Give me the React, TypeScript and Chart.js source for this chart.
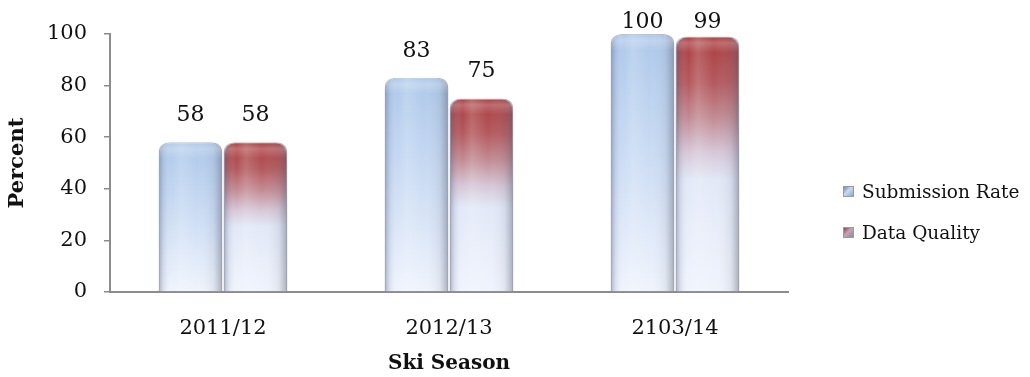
import React, { useEffect, useRef } from "react";
import { Chart, registerables } from "chart.js";

Chart.register(...registerables);

// Season categories and the two percentage series
const seasons = ["2011/12", "2012/13", "2103/14"];
const submissionRate = [58, 83, 100];
const dataQuality = [58, 75, 99];
const seriesNames = ["Submission Rate", "Data Quality"];
const yTicks = [0, 20, 40, 60, 80, 100];

const FONT = "'DejaVu Serif', 'Liberation Serif', serif";

type Stop = [number, string];
const blueStops: Stop[] = [
  [0, "#adc8ea"],
  [0.45, "#c9dbf3"],
  [1, "#f0f4fd"],
];
const redStops: Stop[] = [
  [0, "#a93b3d"],
  [0.18, "#b4595d"],
  [0.32, "#c28c94"],
  [0.45, "#d6c6d6"],
  [0.56, "#e2e8f7"],
  [1, "#f0f4fd"],
];

function barFill(stops: Stop[], fallback: string) {
  return (ctx: any) => {
    const chart = ctx.chart;
    if (!chart.chartArea || ctx.raw == null) return fallback;
    const y = chart.scales.y;
    const top = y.getPixelForValue(ctx.raw);
    const bottom = y.getPixelForValue(0);
    const g = chart.ctx.createLinearGradient(0, top, 0, bottom);
    stops.forEach(([o, c]) => g.addColorStop(o, c));
    return g;
  };
}

// Adds the rounded-cylinder shading across each bar
const cylinderShade = {
  id: "cylinderShade",
  afterDatasetsDraw(chart: any) {
    const c = chart.ctx;
    chart.data.datasets.forEach((_: any, di: number) => {
      const meta = chart.getDatasetMeta(di);
      meta.data.forEach((bar: any) => {
        const { x, y, base, width } = bar.getProps(["x", "y", "base", "width"], true);
        const left = x - width / 2;
        const h = base - y;
        const r = Math.min(11, width / 2, h);
        c.save();
        c.beginPath();
        c.moveTo(left, base);
        c.lineTo(left, y + r);
        c.quadraticCurveTo(left, y, left + r, y);
        c.lineTo(left + width - r, y);
        c.quadraticCurveTo(left + width, y, left + width, y + r);
        c.lineTo(left + width, base);
        c.closePath();
        c.clip();
        const hg = c.createLinearGradient(left, 0, left + width, 0);
        hg.addColorStop(0, "rgba(80,92,125,0.45)");
        hg.addColorStop(0.07, "rgba(110,122,155,0.18)");
        hg.addColorStop(0.2, "rgba(255,255,255,0)");
        hg.addColorStop(0.35, "rgba(255,255,255,0.16)");
        hg.addColorStop(0.6, "rgba(255,255,255,0)");
        hg.addColorStop(0.86, "rgba(120,125,145,0.12)");
        hg.addColorStop(1, "rgba(80,85,105,0.45)");
        c.fillStyle = hg;
        c.fillRect(left, y, width, h);
        const vg = c.createLinearGradient(0, y, 0, y + 16);
        vg.addColorStop(0, "rgba(255,255,255,0)");
        vg.addColorStop(0.4, "rgba(255,255,255,0.22)");
        vg.addColorStop(1, "rgba(255,255,255,0)");
        c.fillStyle = vg;
        c.fillRect(left, y, width, 16);
        c.restore();
      });
    });
  },
};

// Value labels above each bar, kept inside the top of the chart
const valueLabels = {
  id: "valueLabels",
  afterDatasetsDraw(chart: any) {
    const c = chart.ctx;
    c.save();
    c.font = `22px ${FONT}`;
    c.fillStyle = "#111";
    c.textAlign = "center";
    c.textBaseline = "middle";
    chart.data.datasets.forEach((ds: any, di: number) => {
      const meta = chart.getDatasetMeta(di);
      meta.data.forEach((bar: any, i: number) => {
        const ly = Math.max(bar.y - 27, 22);
        c.fillText(String(ds.data[i]), bar.x, ly);
      });
    });
    c.restore();
  },
};

export default function App() {
  const canvasRef = useRef<HTMLCanvasElement | null>(null);

  useEffect(() => {
    if (!canvasRef.current) return;
    const chart = new Chart(canvasRef.current, {
      type: "bar",
      data: {
        labels: seasons,
        datasets: [
          {
            label: seriesNames[0],
            data: submissionRate,
            backgroundColor: barFill(blueStops, "#c9dbf3"),
            borderColor: "rgba(130,138,158,0.55)",
            borderWidth: 1,
            borderRadius: { topLeft: 11, topRight: 11, bottomLeft: 0, bottomRight: 0 },
            borderSkipped: "bottom",
            categoryPercentage: 0.575,
            barPercentage: 0.98,
          },
          {
            label: seriesNames[1],
            data: dataQuality,
            backgroundColor: barFill(redStops, "#c28c94"),
            borderColor: "rgba(130,130,150,0.55)",
            borderWidth: 1,
            borderRadius: { topLeft: 11, topRight: 11, bottomLeft: 0, bottomRight: 0 },
            borderSkipped: "bottom",
            categoryPercentage: 0.575,
            barPercentage: 0.98,
          },
        ],
      },
      options: {
        animation: false,
        responsive: true,
        maintainAspectRatio: false,
        layout: { padding: { top: 34, right: 242, bottom: 0, left: 0 } },
        plugins: {
          legend: { display: false },
          tooltip: { enabled: false },
        },
        scales: {
          x: {
            grid: { display: false, drawTicks: false },
            border: { display: true, color: "#8c8c8c", width: 2 },
            ticks: { font: { family: FONT, size: 21 }, color: "#111", padding: 24 },
            title: {
              display: true,
              text: "Ski Season",
              font: { family: FONT, size: 20, weight: "bold" },
              color: "#111",
              padding: { top: 0, bottom: 1 },
            },
            afterFit(scale: any) {
              scale.height = 85;
            },
          },
          y: {
            min: 0,
            max: 100,
            afterBuildTicks(scale: any) {
              scale.ticks = yTicks.map((v) => ({ value: v }));
            },
            grid: {
              drawOnChartArea: false,
              drawTicks: true,
              tickLength: 6,
              color: "#8c8c8c",
              lineWidth: 1.5,
            },
            border: { display: true, color: "#8c8c8c", width: 2 },
            ticks: { font: { family: FONT, size: 21 }, color: "#111", padding: 17 },
            title: {
              display: true,
              text: "Percent",
              font: { family: FONT, size: 21, weight: "bold" },
              color: "#111",
              padding: { top: 5, bottom: 0 },
            },
            afterFit(scale: any) {
              scale.width = 110;
            },
          },
        },
      },
      plugins: [cylinderShade, valueLabels],
    });
    return () => chart.destroy();
  }, []);

  const markerBg = [
    "linear-gradient(135deg, #6f86b5 0%, #c9d9f0 45%, #8ea5cc 100%)",
    "linear-gradient(135deg, #9a3b45 0%, #c7a3b3 45%, #8a8aa8 100%)",
  ];
  const itemCenters = [191, 232];

  return (
    <div style={{ position: "absolute", left: 0, top: 0, width: 1030, height: 377, background: "#fff" }}>
      <canvas ref={canvasRef} />
      {seriesNames.map((name, i) => (
        <div
          key={name}
          style={{
            position: "absolute",
            left: 843,
            top: itemCenters[i] - 12,
            height: 24,
            display: "flex",
            alignItems: "center",
            fontFamily: FONT,
            fontSize: 18.5,
            color: "#111",
            whiteSpace: "nowrap",
          }}
        >
          <span
            style={{
              display: "inline-block",
              width: 11,
              height: 11,
              marginRight: 8,
              background: markerBg[i],
              border: "1px solid #9a9aa6",
              boxSizing: "border-box",
            }}
          />
          {name}
        </div>
      ))}
    </div>
  );
}
